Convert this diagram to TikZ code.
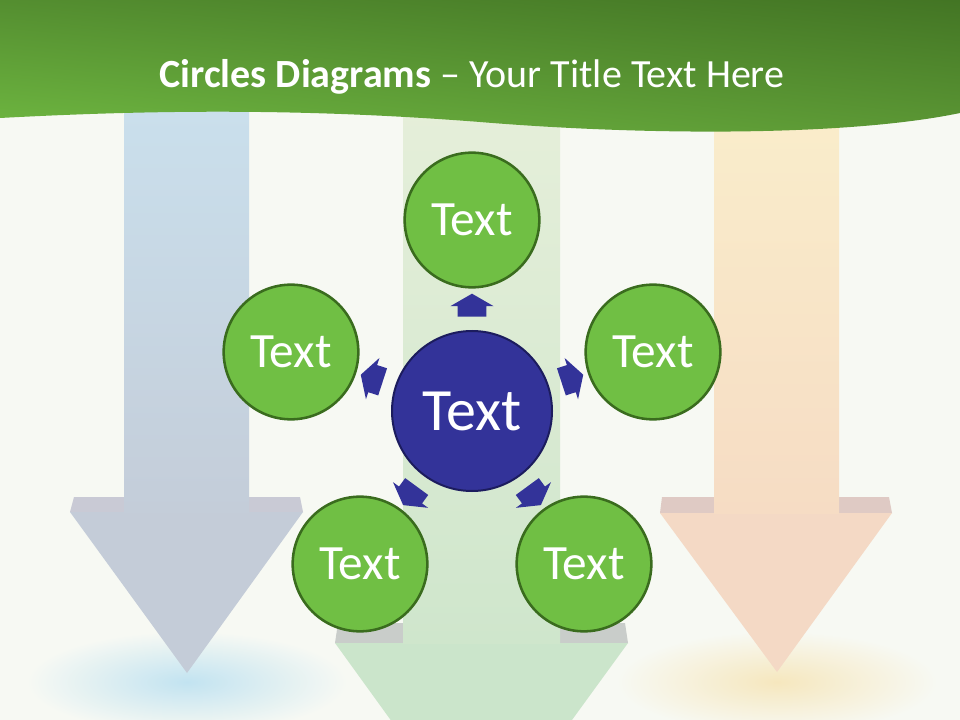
\documentclass[tikz,border=0pt]{standalone}
\usepackage{fontspec}
\setmainfont{Carlito}
\usetikzlibrary{shapes.arrows, shadings}

\definecolor{pagebg}{HTML}{F7F9F3}
\definecolor{bannerul}{HTML}{548E30}
\definecolor{bannerur}{HTML}{437524}
\definecolor{bannerll}{HTML}{6FB841}
\definecolor{bannerlr}{HTML}{5C9835}
\definecolor{bubblefill}{HTML}{70BF44}
\definecolor{bubbleline}{HTML}{3A6C1E}
\definecolor{hubfill}{HTML}{333399}
\definecolor{hubline}{HTML}{1C1C5E}
\definecolor{bluetop}{HTML}{CAE0ED}
\definecolor{bluebot}{HTML}{C4CDD9}
\definecolor{bluehead}{HTML}{C4CCD8}
\definecolor{blueledge}{HTML}{C9CAD5}
\definecolor{blueglow}{HTML}{C2E3F1}
\definecolor{greentop}{HTML}{E6EFDA}
\definecolor{greenbot}{HTML}{CFE6CC}
\definecolor{greenhead}{HTML}{CBE5CB}
\definecolor{greenledge}{HTML}{C9CDCA}
\definecolor{orangetop}{HTML}{FAEECB}
\definecolor{orangebot}{HTML}{F6DCC4}
\definecolor{orangehead}{HTML}{F4D9C5}
\definecolor{orangeledge}{HTML}{DFCAC4}
\definecolor{orangeglow}{HTML}{F6E7BE}

\begin{document}
\begin{tikzpicture}[x=0.75pt, y=-0.75pt,
    bubble/.style={circle, draw=bubbleline, line width=1.9pt, fill=bubblefill,
        text=white, minimum size=101pt, inner sep=0pt,
        font=\fontsize{37}{40}\selectfont},
    hub/.style={circle, draw=hubline, line width=1.5pt, fill=hubfill,
        text=white, minimum size=120pt, inner sep=0pt,
        font=\fontsize{45}{48}\selectfont},
    pointer/.style={single arrow, fill=hubfill, inner xsep=0pt, inner ysep=10.5pt,
        minimum height=17.25pt, single arrow head extend=5.6pt,
        single arrow tip angle=120, sloped, allow upside down}]

    \useasboundingbox (0,0) rectangle (960,720);
    \clip (0,0) rectangle (960,720);
    \fill[pagebg] (0,0) rectangle (960,720);

    % glows under the tips
    \shade[inner color=blueglow, outer color=pagebg] (187,682) ellipse [x radius=120pt, y radius=38pt];
    \shade[inner color=orangeglow, outer color=pagebg] (777,682) ellipse [x radius=120pt, y radius=38pt];

    % big arrows
    \fill[blueledge] (74,497) -- (300,497) -- (303,512) -- (70,512) -- cycle;
    \fill[bluehead] (70,512) -- (303,512) -- (187,673) -- cycle;
    \shade[top color=bluetop, bottom color=bluebot] (124,90) rectangle (249,512);

    \fill[greenledge] (338,623) -- (625,623) -- (628,643) -- (335,643) -- cycle;
    \fill[greenhead] (335,643) -- (628,643) -- (481,845) -- cycle;
    \shade[top color=greentop, bottom color=greenbot] (403,90) rectangle (560,643);

    \fill[orangeledge] (662,497) -- (889,497) -- (892,513) -- (660,513) -- cycle;
    \fill[orangehead] (660,513) -- (892,513) -- (777,672) -- cycle;
    \shade[top color=orangetop, bottom color=orangebot] (714,90) rectangle (839,513);

    % title banner
    \shade[upper left=bannerul, upper right=bannerur, lower left=bannerll, lower right=bannerlr]
        (0,0) -- (960,0) -- (960,113) .. controls (850,136) and (650,136) .. (480,122)
        .. controls (300,108) and (150,110) .. (0,118) -- cycle;
    \node[anchor=base, text=white, font=\fontsize{30}{36}\selectfont] (T) at (472,88)
        {\textbf{Circles Diagrams} – Your Title Text Here};

    \node[hub] (Z) at (472,411) {Text};
    \node[bubble] (A) at (472,220) {Text};
    \node[bubble] (B) at (291,352) {Text};
    \node[bubble] (C) at (653,352) {Text};
    \node[bubble] (D) at (360,564) {Text};
    \node[bubble] (E) at (584,564) {Text};

    \path (Z) -- (A) node[pointer, midway] {};
    \path (Z) -- (B) node[pointer, midway] {};
    \path (Z) -- (C) node[pointer, midway] {};
    \path (Z) -- (D) node[pointer, midway] {};
    \path (Z) -- (E) node[pointer, midway] {};

\end{tikzpicture}
\end{document}
